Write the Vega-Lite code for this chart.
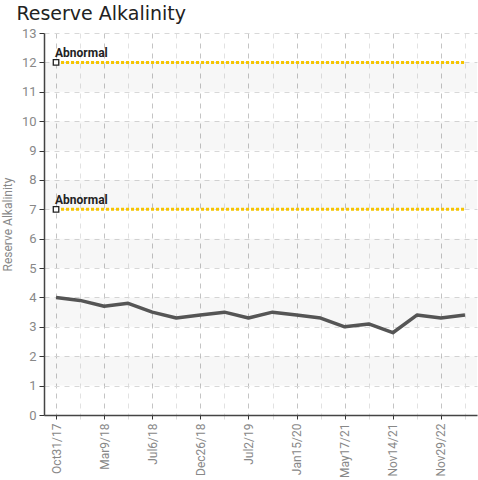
{
  "$schema": "https://vega.github.io/schema/vega-lite/v6.json",
  "width": 433,
  "height": 382,
  "padding": {"left": 1, "top": 5, "right": 1, "bottom": 2},
  "background": "white",
  "title": {"text": "Reserve Alkalinity", "anchor": "start", "font": "DejaVu Sans", "fontSize": 19, "fontWeight": "normal", "color": "#222", "offset": 3, "dx": 15},
  "config": {
    "view": {"stroke": null},
    "axisY": {
      "tickCount": 20,
      "format": "d",
      "labelOverlap": false,
      "labelFont": "Roboto",
      "labelFontSize": 13,
      "labelColor": "#888",
      "labelPadding": 3,
      "titleFont": "Roboto",
      "titleFontSize": 12,
      "titleFontWeight": "normal",
      "titleColor": "#888",
      "titlePadding": 7,
      "domainColor": "#444",
      "domainWidth": 1.5,
      "tickColor": "#333",
      "tickSize": 5,
      "grid": true,
      "gridDash": [5, 5],
      "gridColor": "#d8d8d8"
    }
  },
  "datasets": {
    "main": [
      {"date": "Oct31/17", "value": 4.0},
      {"date": "Jan4/18", "value": 3.9},
      {"date": "Mar9/18", "value": 3.7},
      {"date": "May8/18", "value": 3.8},
      {"date": "Jul6/18", "value": 3.5},
      {"date": "Sep20/18", "value": 3.3},
      {"date": "Dec26/18", "value": 3.4},
      {"date": "Mar28/19", "value": 3.5},
      {"date": "Jul2/19", "value": 3.3},
      {"date": "Oct9/19", "value": 3.5},
      {"date": "Jan15/20", "value": 3.4},
      {"date": "Sep22/20", "value": 3.3},
      {"date": "May17/21", "value": 3.0},
      {"date": "Aug18/21", "value": 3.1},
      {"date": "Nov14/21", "value": 2.8},
      {"date": "May24/22", "value": 3.4},
      {"date": "Nov29/22", "value": 3.3},
      {"date": "Apr12/23", "value": 3.4}
    ],
    "stripes": [
      {"lo": 1, "hi": 2}, {"lo": 3, "hi": 4}, {"lo": 5, "hi": 6},
      {"lo": 7, "hi": 8}, {"lo": 9, "hi": 10}, {"lo": 11, "hi": 12}
    ],
    "limits": [
      {"start": "Oct31/17", "end": "Apr12/23", "value": 12, "label": "Abnormal"},
      {"start": "Oct31/17", "end": "Apr12/23", "value": 7, "label": "Abnormal"}
    ]
  },
  "layer": [
    {
      "data": {"name": "stripes"},
      "mark": {"type": "rect", "color": "#000", "opacity": 0.03},
      "encoding": {
        "y": {"field": "lo", "type": "quantitative", "title": "Reserve Alkalinity", "scale": {"domain": [0, 13], "nice": false},
          "axis": {"values": [0,1,2,3,4,5,6,7,8,9,10,11,12,13], "tickCount": 20, "format": "d", "labelOverlap": false}},
        "y2": {"field": "hi"}
      }
    },
    {
      "data": {"name": "main"},
      "mark": {"type": "line", "color": "#555", "strokeWidth": 3.5, "strokeJoin": "round"},
      "encoding": {
        "x": {
          "field": "date", "type": "nominal", "sort": null, "title": null,
          "scale": {"type": "point", "padding": 0.5},
          "axis": {
            "labelAngle": -90,
            "labelExpr": "round(datum.index*17) % 2 == 0 ? datum.label : ''",
            "labelFont": "Roboto",
            "labelFontSize": 12,
            "labelColor": "#888",
            "labelPadding": 4,
            "domainColor": "#444",
            "domainWidth": 1.5,
            "tickColor": {"condition": {"test": "round(datum.index*17) % 2 == 0", "value": "#333"}, "value": "#ddd"},
            "tickSize": 4,
            "grid": true,
            "gridDash": [5, 5],
            "gridColor": {"condition": {"test": "round(datum.index*17) % 2 == 0", "value": "#c4c4c4"}, "value": "#e2e2e2"},
            "gridWidth": 1
          }
        },
        "y": {
          "field": "value", "type": "quantitative", "title": "Reserve Alkalinity",
          "scale": {"domain": [0, 13], "nice": false},
          "axis": {"values": [0,1,2,3,4,5,6,7,8,9,10,11,12,13], "tickCount": 20, "format": "d", "labelOverlap": false}
        }
      }
    },
    {
      "data": {"name": "limits"},
      "mark": {"type": "rule", "color": "#f5c400", "strokeWidth": 3, "strokeDash": [3, 2]},
      "encoding": {
        "x": {"field": "start", "type": "nominal", "sort": null},
        "x2": {"field": "end"},
        "y": {"field": "value", "type": "quantitative"}
      }
    },
    {
      "data": {"name": "limits"},
      "mark": {"type": "point", "shape": "square", "filled": true, "fill": "white", "stroke": "#222", "strokeWidth": 1.3, "size": 30, "opacity": 1},
      "encoding": {
        "x": {"field": "start", "type": "nominal", "sort": null},
        "y": {"field": "value", "type": "quantitative"}
      }
    },
    {
      "data": {"name": "limits"},
      "mark": {"type": "text", "align": "left", "baseline": "bottom", "dx": -1, "dy": -2, "font": "Roboto", "fontSize": 12, "fontWeight": "bold", "color": "#222"},
      "encoding": {
        "x": {"field": "start", "type": "nominal", "sort": null},
        "y": {"field": "value", "type": "quantitative"},
        "text": {"field": "label"}
      }
    }
  ]
}
